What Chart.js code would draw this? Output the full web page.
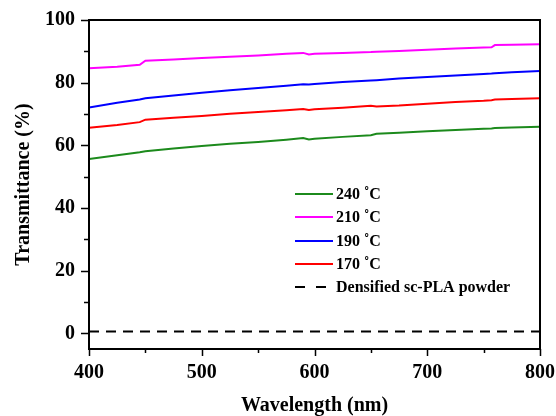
<!DOCTYPE html>
<html>
<head>
<meta charset="utf-8">
<script src="https://cdn.jsdelivr.net/npm/chart.js@4/dist/chart.umd.min.js"></script>
<style>
html,body{margin:0;padding:0;background:#fff;}
#wrap{width:556px;height:416px;}
</style>
</head>
<body>
<div id="wrap"><canvas id="c" width="556" height="416"></canvas></div>
<script>
const wavelengths = [400,425,445,450,475,500,525,550,575,590,595,600,625,650,655,675,700,725,750,757,760,775,800];
const t240 = [55.6,56.8,57.8,58.1,59.0,59.8,60.5,61.1,61.8,62.3,61.9,62.1,62.7,63.2,63.7,64.0,64.5,64.9,65.3,65.4,65.5,65.7,65.9];
const t210 = [84.6,85.1,85.7,87.0,87.4,87.9,88.3,88.7,89.2,89.5,89.0,89.2,89.5,89.8,89.9,90.1,90.5,90.9,91.2,91.3,92.0,92.1,92.3];
const t190 = [72.1,73.6,74.6,75.0,75.9,76.8,77.6,78.3,79.0,79.5,79.4,79.6,80.2,80.7,80.8,81.3,81.8,82.3,82.8,82.9,83.0,83.3,83.7];
const t170 = [65.6,66.5,67.4,68.2,68.8,69.4,70.1,70.6,71.2,71.6,71.3,71.5,72.0,72.6,72.4,72.7,73.3,73.8,74.2,74.4,74.6,74.8,75.0];
const tPowder = [0.6,0.6,0.6,0.6,0.6,0.6,0.6,0.6,0.6,0.6,0.6,0.6,0.6,0.6,0.6,0.6,0.6,0.6,0.6,0.6,0.6,0.6,0.6];
const seriesLabels = ['240 \u02DAC','210 \u02DAC','190 \u02DAC','170 \u02DAC','Densified sc-PLA powder'];
const xTicks = [400,500,600,700,800];
const yTicks = [0,20,40,60,80,100];

const FONT = "'Liberation Serif','Times New Roman',serif";
const pts = arr => wavelengths.map((w,i)=>({x:w,y:arr[i]}));

const ds = (label, arr, color, dash) => ({
  label, data: pts(arr), borderColor: color, backgroundColor: color,
  borderWidth: 2, pointRadius: 0, tension: 0, fill: false,
  borderDash: dash || []
});

const decor = {
  id: 'decor',
  afterDraw(chart) {
    const ctx = chart.ctx, a = chart.chartArea;
    const xs = chart.scales.x, ys = chart.scales.y;
    ctx.save();
    ctx.strokeStyle = '#000';
    ctx.lineWidth = 2;
    ctx.strokeRect(a.left, a.top, a.right - a.left, a.bottom - a.top);
    ctx.lineWidth = 1.5;
    ctx.beginPath();
    for (let v = 0; v <= 100; v += 10) {
      const y = Math.round(ys.getPixelForValue(v)) + 0.5;
      const len = (v % 20 === 0) ? 8 : 5;
      ctx.moveTo(a.left, y); ctx.lineTo(a.left - len, y);
    }
    for (let v = 400; v <= 800; v += 50) {
      const x = Math.round(xs.getPixelForValue(v)) + 0.5;
      const len = (v % 100 === 0) ? 7 : 4;
      ctx.moveTo(x, a.bottom); ctx.lineTo(x, a.bottom + len);
    }
    ctx.stroke();
    // legend
    const lx = 295, lw = 38, tx = 336;
    const rows = [194, 217, 241, 264, 287];
    ctx.font = "bold 16px " + FONT;
    ctx.textBaseline = 'middle';
    ctx.textAlign = 'left';
    chart.data.datasets.forEach((d, i) => {
      const y = rows[i];
      ctx.strokeStyle = d.borderColor;
      ctx.lineWidth = 2;
      ctx.setLineDash(d.borderDash && d.borderDash.length ? [10, 11] : []);
      ctx.beginPath();
      ctx.moveTo(lx, y); ctx.lineTo(lx + (d.borderDash.length ? 31 : lw), y);
      ctx.stroke();
      ctx.setLineDash([]);
      ctx.fillStyle = '#000';
      ctx.fillText(d.label, tx, y + 1);
    });
    ctx.restore();
  }
};

new Chart(document.getElementById('c'), {
  type: 'line',
  data: {
    datasets: [
      ds(seriesLabels[0], t240, '#1c8a1c'),
      ds(seriesLabels[1], t210, '#ff00ff'),
      ds(seriesLabels[2], t190, '#0000ff'),
      ds(seriesLabels[3], t170, '#ff0000'),
      ds(seriesLabels[4], tPowder, '#000000', [10, 7])
    ]
  },
  options: {
    responsive: false,
    animation: false,
    events: [],
    layout: { padding: { left: 0, right: 16, top: 20, bottom: 0 } },
    plugins: { legend: { display: false }, tooltip: { enabled: false } },
    scales: {
      x: {
        type: 'linear', min: 400, max: 800,
        afterBuildTicks: s => { s.ticks = xTicks.map(v => ({ value: v })); },
        afterFit: s => { s.height = 67; s.paddingLeft = 0; s.paddingRight = 0; },
        grid: { display: false, drawTicks: false },
        border: { display: false },
        ticks: { color: '#000', padding: 12, font: { family: FONT, size: 20, weight: 'bold' } },
        title: { display: true, text: 'Wavelength (nm)', color: '#000', padding: { top: -1.5, bottom: -1.5 },
                 font: { family: FONT, size: 20, weight: 'bold' } }
      },
      y: {
        type: 'linear', min: -5, max: 100,
        afterBuildTicks: s => { s.ticks = yTicks.map(v => ({ value: v })); },
        afterFit: s => { s.width = 89; s.paddingTop = 0; s.paddingBottom = 0; },
        grid: { display: false, drawTicks: false },
        border: { display: false },
        ticks: { color: '#000', padding: 14, font: { family: FONT, size: 20, weight: 'bold' } },
        title: { display: true, text: 'Transmittance (%)', color: '#000', padding: { top: 12, bottom: 0 },
                 font: { family: FONT, size: 20, weight: 'bold' } }
      }
    }
  },
  plugins: [decor]
});
</script>
</body>
</html>
